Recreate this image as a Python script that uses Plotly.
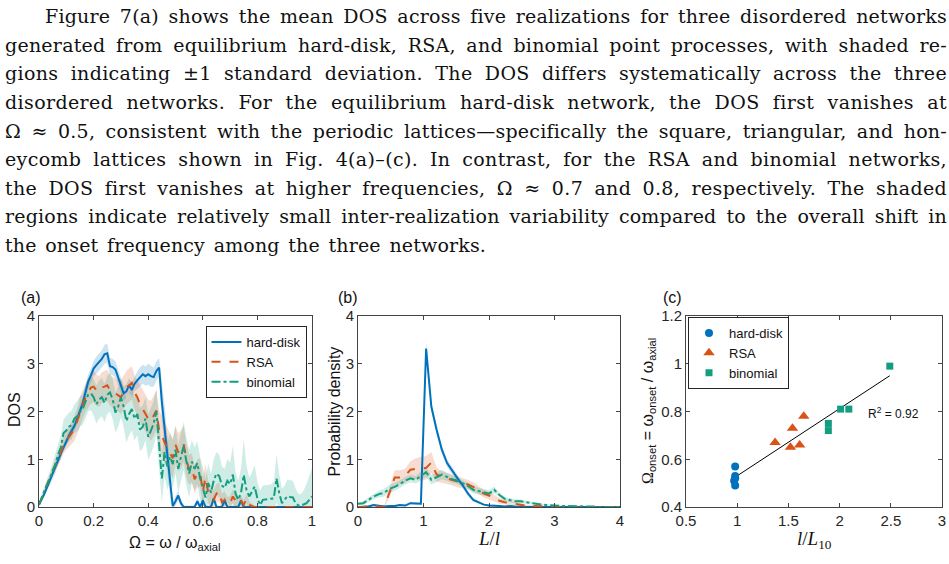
import json
import numpy as np
import plotly.graph_objects as go

W, H = 949, 564

# ---------------- panel (a): DOS ----------------
omega = np.round(np.arange(0, 1.0001, 0.01), 2)
dos_hd = [0.05, 0.15, 0.28, 0.42, 0.57, 0.70, 0.84, 0.98, 1.12, 1.25,
          1.38, 1.50, 1.60, 1.70, 1.85, 2.00, 2.17, 2.40, 2.62, 2.75,
          2.90, 2.97, 3.03, 3.10, 3.20, 3.22, 2.95, 2.93, 2.88, 2.72,
          2.55, 2.38, 2.42, 2.55, 2.45, 2.58, 2.65, 2.72, 2.78, 2.74,
          2.78, 2.74, 2.72, 2.85, 2.92, 2.20, 1.70, 1.10, 0.55, 0.02,
          0.12, 0.24, 0.08, 0.00, 0.00, 0.00, 0.00, 0.00, 0.12, 0.00,
          0.14, 0.00, 0.00, 0.00, 0.18, 0.00, 0.00, 0.00, 0.14, 0.00,
          0.00, 0.00, 0.00, 0.00, 0.14, 0.00, 0.00, 0.00, 0.00, 0.00,
          0.00, 0.00, 0.00, 0.00, 0.00, 0.00, 0.00, 0.00, 0.00, 0.00,
          0.00, 0.00, 0.00, 0.00, 0.00, 0.00, 0.00, 0.00, 0.00, 0.00, 0.00]
dos_hd_sd = [0.03, 0.04, 0.05, 0.05, 0.06, 0.06, 0.07, 0.08, 0.08, 0.09,
             0.10, 0.10, 0.10, 0.10, 0.12, 0.12, 0.14, 0.15, 0.15, 0.15,
             0.16, 0.18, 0.18, 0.18, 0.20, 0.20, 0.18, 0.17, 0.17, 0.16,
             0.15, 0.15, 0.15, 0.15, 0.15, 0.15, 0.18, 0.20, 0.20, 0.20,
             0.22, 0.22, 0.20, 0.20, 0.20, 0.40, 0.45, 0.40, 0.35, 0.10,
             0.10, 0.10, 0.08, 0.03, 0.03, 0.03, 0.03, 0.03, 0.08, 0.03,
             0.08, 0.03, 0.03, 0.03, 0.08, 0.03, 0.03, 0.03, 0.08, 0.03,
             0.03, 0.03, 0.03, 0.03, 0.08, 0.03, 0.00, 0.00, 0.00, 0.00,
             0.00, 0.00, 0.00, 0.00, 0.00, 0.00, 0.00, 0.00, 0.00, 0.00,
             0.00, 0.00, 0.00, 0.00, 0.00, 0.00, 0.00, 0.00, 0.00, 0.00, 0.00]
dos_rsa = [0.05, 0.18, 0.32, 0.47, 0.62, 0.75, 0.88, 1.00, 1.15, 1.30,
           1.40, 1.47, 1.55, 1.65, 1.80, 2.00, 2.15, 2.28, 2.40, 2.50,
           2.52, 2.45, 2.42, 2.50, 2.52, 2.55, 2.45, 2.40, 2.38, 2.33,
           2.30, 2.40, 2.50, 2.55, 2.60, 2.40, 2.30, 2.15, 2.05, 1.95,
           1.85, 1.80, 1.90, 2.02, 1.60, 1.50, 1.35, 1.25, 1.15, 1.02,
           1.30, 1.15, 1.20, 1.32, 0.98, 0.78, 0.82, 0.58, 0.70, 0.72,
           0.32, 0.62, 0.30, 0.22, 0.15, 0.28, 0.32, 0.10, 0.15, 0.06,
           0.08, 0.22, 0.12, 0.05, 0.12, 0.05, 0.17, 0.05, 0.02, 0.00,
           0.00, 0.00, 0.00, 0.00, 0.00, 0.00, 0.00, 0.00, 0.00, 0.00,
           0.00, 0.00, 0.00, 0.00, 0.00, 0.00, 0.00, 0.00, 0.00, 0.00, 0.00]
dos_rsa_sd = [0.03, 0.05, 0.07, 0.08, 0.09, 0.10, 0.12, 0.14, 0.16, 0.18,
              0.20, 0.22, 0.24, 0.26, 0.28, 0.30, 0.30, 0.30, 0.32, 0.33,
              0.33, 0.33, 0.32, 0.32, 0.33, 0.33, 0.32, 0.32, 0.32, 0.33,
              0.35, 0.35, 0.35, 0.35, 0.35, 0.36, 0.36, 0.38, 0.38, 0.40,
              0.40, 0.42, 0.42, 0.42, 0.42, 0.42, 0.42, 0.42, 0.42, 0.42,
              0.40, 0.40, 0.40, 0.38, 0.36, 0.32, 0.30, 0.30, 0.30, 0.30,
              0.28, 0.28, 0.25, 0.22, 0.20, 0.20, 0.20, 0.18, 0.18, 0.15,
              0.15, 0.15, 0.15, 0.12, 0.12, 0.10, 0.10, 0.08, 0.05, 0.02,
              0.00, 0.00, 0.00, 0.00, 0.00, 0.00, 0.00, 0.00, 0.00, 0.00,
              0.00, 0.00, 0.00, 0.00, 0.00, 0.00, 0.00, 0.00, 0.00, 0.00, 0.00]
dos_bin = [0.05, 0.20, 0.35, 0.48, 0.60, 0.75, 0.90, 1.10, 1.25, 1.55,
           1.60, 1.68, 1.72, 1.85, 1.90, 2.00, 2.05, 2.20, 2.35, 2.38,
           2.30, 2.15, 2.25, 2.30, 2.18, 2.35, 2.40, 2.25, 1.98, 2.10,
           2.30, 2.10, 1.80, 1.95, 2.05, 1.85, 1.95, 1.62, 1.68, 1.85,
           1.47, 1.60, 1.75, 2.00, 1.20, 0.60, 1.15, 0.85, 1.05, 0.90,
           1.20, 0.80, 1.05, 1.28, 0.95, 0.70, 0.95, 0.80, 0.92, 0.60,
           0.40, 0.20, 0.50, 0.30, 0.55, 0.70, 0.65, 0.45, 0.40, 0.55,
           0.48, 0.68, 0.28, 0.15, 0.30, 0.67, 0.36, 0.22, 0.32, 0.43,
           0.18, 0.04, 0.15, 0.16, 0.16, 0.17, 0.18, 0.60, 0.29, 0.08,
           0.15, 0.23, 0.21, 0.20, 0.08, 0.03, 0.03, 0.05, 0.08, 0.15, 0.22]
dos_bin_sd = [0.05, 0.08, 0.10, 0.12, 0.15, 0.18, 0.20, 0.22, 0.25, 0.28,
              0.30, 0.30, 0.30, 0.30, 0.32, 0.32, 0.32, 0.35, 0.35, 0.35,
              0.38, 0.40, 0.40, 0.40, 0.40, 0.40, 0.40, 0.42, 0.42, 0.42,
              0.42, 0.42, 0.45, 0.45, 0.45, 0.45, 0.45, 0.45, 0.45, 0.45,
              0.48, 0.48, 0.48, 0.48, 0.50, 0.50, 0.50, 0.50, 0.50, 0.50,
              0.50, 0.50, 0.50, 0.50, 0.50, 0.50, 0.45, 0.45, 0.45, 0.45,
              0.45, 0.40, 0.40, 0.40, 0.45, 0.45, 0.45, 0.40, 0.40, 0.45,
              0.45, 0.60, 0.45, 0.40, 0.50, 0.75, 0.50, 0.40, 0.40, 0.45,
              0.35, 0.30, 0.30, 0.30, 0.30, 0.30, 0.35, 0.50, 0.40, 0.30,
              0.30, 0.35, 0.35, 0.35, 0.30, 0.25, 0.25, 0.30, 0.40, 0.50, 0.60]

# ---------------- panel (b): edge-length distribution ----------------
L_ratio = np.round(np.arange(0, 4.0001, 0.08), 2)
pdf_hd = [0.00, 0.00, 0.01, 0.04, 0.02, 0.01, 0.02, 0.02, 0.04, 0.03,
          0.08, 0.07, 0.07, 3.32, 2.10, 1.62, 1.20, 0.92, 0.75, 0.60,
          0.45, 0.28, 0.15, 0.10, 0.05, 0.03, 0.03, 0.02, 0.01, 0.02,
          0.01, 0.00, 0.00, 0.00, 0.00, 0.00, 0.00, 0.00, 0.00, 0.00,
          0.00, 0.00, 0.00, 0.00, 0.00, 0.00, 0.00, 0.00, 0.00, 0.00, 0.00]
pdf_hd_sd = [0.01, 0.01, 0.02, 0.02, 0.02, 0.02, 0.02, 0.02, 0.02, 0.02,
             0.03, 0.03, 0.03, 0.15, 0.10, 0.10, 0.08, 0.08, 0.07, 0.07,
             0.06, 0.05, 0.04, 0.03, 0.02, 0.02, 0.02, 0.01, 0.01, 0.01,
             0.01, 0.00, 0.00, 0.00, 0.00, 0.00, 0.00, 0.00, 0.00, 0.00,
             0.00, 0.00, 0.00, 0.00, 0.00, 0.00, 0.00, 0.00, 0.00, 0.00, 0.00]
pdf_rsa = [0.00, 0.00, 0.02, 0.04, 0.00, 0.01, 0.30, 0.62, 0.62, 0.65,
           0.78, 0.80, 0.80, 0.82, 0.93, 0.68, 0.63, 0.60, 0.57, 0.53,
           0.50, 0.47, 0.42, 0.35, 0.28, 0.24, 0.18, 0.13, 0.10, 0.08,
           0.07, 0.05, 0.03, 0.02, 0.02, 0.01, 0.01, 0.01, 0.00, 0.00,
           0.00, 0.00, 0.00, 0.00, 0.00, 0.00, 0.00, 0.00, 0.00, 0.00, 0.00]
pdf_rsa_sd = [0.01, 0.01, 0.02, 0.02, 0.02, 0.02, 0.10, 0.15, 0.15, 0.15,
              0.18, 0.22, 0.25, 0.25, 0.22, 0.15, 0.12, 0.12, 0.12, 0.12,
              0.10, 0.10, 0.10, 0.08, 0.08, 0.08, 0.07, 0.06, 0.05, 0.04,
              0.03, 0.03, 0.02, 0.02, 0.02, 0.01, 0.01, 0.01, 0.00, 0.00,
              0.00, 0.00, 0.00, 0.00, 0.00, 0.00, 0.00, 0.00, 0.00, 0.00, 0.00]
pdf_bin = [0.07, 0.08, 0.15, 0.22, 0.27, 0.30, 0.38, 0.42, 0.48, 0.55,
           0.60, 0.57, 0.65, 0.73, 0.57, 0.62, 0.68, 0.63, 0.58, 0.55,
           0.50, 0.44, 0.36, 0.33, 0.30, 0.28, 0.36, 0.25, 0.17, 0.14,
           0.12, 0.12, 0.10, 0.08, 0.07, 0.05, 0.04, 0.03, 0.03, 0.02,
           0.02, 0.02, 0.02, 0.01, 0.01, 0.01, 0.00, 0.00, 0.00, 0.00, 0.00]
pdf_bin_sd = [0.03, 0.04, 0.05, 0.06, 0.07, 0.08, 0.08, 0.08, 0.08, 0.08,
              0.08, 0.08, 0.10, 0.10, 0.10, 0.10, 0.10, 0.08, 0.08, 0.07,
              0.07, 0.07, 0.07, 0.07, 0.07, 0.07, 0.07, 0.05, 0.04, 0.04,
              0.04, 0.04, 0.03, 0.03, 0.03, 0.02, 0.02, 0.02, 0.02, 0.01,
              0.01, 0.01, 0.01, 0.01, 0.01, 0.01, 0.00, 0.00, 0.00, 0.00, 0.00]

# ---------------- panel (c): onset frequency vs l/L10 ----------------
hd_x = [0.98, 0.98, 0.98, 0.97, 0.98]
hd_y = [0.57, 0.53, 0.52, 0.51, 0.49]
rsa_x = [1.37, 1.52, 1.54, 1.61, 1.65]
rsa_y = [0.67, 0.65, 0.73, 0.66, 0.78]
bin_x = [1.89, 1.89, 2.01, 2.09, 2.49]
bin_y = [0.75, 0.72, 0.81, 0.81, 0.99]
fit_x = [0.98, 2.49]
fit_y = [0.525, 0.95]
r2_text = "R<sup>2</sup> = 0.92"

series_names = ["hard-disk", "RSA", "binomial"]
colors = ["#0072BD", "#D95319", "#139E80"]
fills = ["rgba(0,114,189,0.2)", "rgba(217,83,25,0.2)", "rgba(19,158,128,0.2)"]
dashes = ["solid", "dash", "dashdot"]

para_lines = [
    "Figure 7(a) shows the mean DOS across five realizations for three disordered networks",
    "generated from equilibrium hard-disk, RSA, and binomial point processes, with shaded re-",
    "gions indicating \u00b11 standard deviation. The DOS differs systematically across the three",
    "disordered networks. For the equilibrium hard-disk network, the DOS first vanishes at",
    "\u03a9 \u2248 0.5, consistent with the periodic lattices\u2014specifically the square, triangular, and hon-",
    "eycomb lattices shown in Fig. 4(a)\u2013(c). In contrast, for the RSA and binomial networks,",
    "the DOS first vanishes at higher frequencies, \u03a9 \u2248 0.7 and 0.8, respectively. The shaded",
    "regions indicate relatively small inter-realization variability compared to the overall shift in",
    "the onset frequency among the three networks.",
]
para_left = [45, 5, 5, 5, 5, 5, 5, 5, 5]
para_right = [947, 947, 947, 947, 947, 947, 947, 947, 486]


def fx(p):
    return p / W


def fy(p):
    return 1 - p / H


fig = go.Figure()

panels = [
    ("x", "y", omega, [dos_hd, dos_rsa, dos_bin], [dos_hd_sd, dos_rsa_sd, dos_bin_sd]),
    ("x2", "y2", L_ratio, [pdf_hd, pdf_rsa, pdf_bin], [pdf_hd_sd, pdf_rsa_sd, pdf_bin_sd]),
]
for xa, ya, xv, means, sds in panels:
    for i in range(3):
        m = np.array(means[i])
        s = np.array(sds[i])
        fig.add_trace(go.Scatter(x=xv, y=m + s, xaxis=xa, yaxis=ya, mode="lines",
                                 line=dict(width=0), showlegend=False, hoverinfo="skip"))
        fig.add_trace(go.Scatter(x=xv, y=m - s, xaxis=xa, yaxis=ya, mode="lines",
                                 line=dict(width=0), fill="tonexty", fillcolor=fills[i],
                                 showlegend=False, hoverinfo="skip"))
    for i in range(3):
        fig.add_trace(go.Scatter(x=xv, y=means[i], xaxis=xa, yaxis=ya, mode="lines",
                                 name=series_names[i],
                                 line=dict(color=colors[i], width=2, dash=dashes[i]),
                                 showlegend=(xa == "x"), legend="legend"))

# panel (c)
fig.add_trace(go.Scatter(x=fit_x, y=fit_y, xaxis="x3", yaxis="y3", mode="lines",
                         line=dict(color="black", width=1), showlegend=False))
markers = ["circle", "triangle-up", "square"]
msizes = [8, 10, 7]
for i, (xs, ys) in enumerate([(hd_x, hd_y), (rsa_x, rsa_y), (bin_x, bin_y)]):
    fig.add_trace(go.Scatter(x=xs, y=ys, xaxis="x3", yaxis="y3", mode="markers",
                             name=series_names[i],
                             marker=dict(symbol=markers[i], size=msizes[i], color=colors[i],
                                         line=dict(width=0)),
                             legend="legend2"))

tickfont = dict(family="Liberation Sans, Arial, sans-serif", size=15, color="#262626")
axis_common = dict(showline=True, linecolor="#444444", linewidth=1, mirror="ticks",
                   ticks="inside", ticklen=4, tickcolor="#444444", showgrid=False,
                   zeroline=False, tickfont=tickfont, automargin=False, fixedrange=True)

ydom = [fy(507), fy(316)]
fig.update_layout(
    width=W, height=H,
    margin=dict(l=0, r=0, t=0, b=0),
    paper_bgcolor="white", plot_bgcolor="white",
    font=dict(family="Liberation Sans, Arial, sans-serif", color="#262626"),
    xaxis=dict(domain=[fx(39), fx(312)], range=[0, 1], anchor="y",
               tickvals=[0, 0.2, 0.4, 0.6, 0.8, 1],
               ticktext=["0", "0.2", "0.4", "0.6", "0.8", "1"], **axis_common),
    yaxis=dict(domain=ydom, range=[0, 4], anchor="x", tickvals=[0, 1, 2, 3, 4], **axis_common),
    xaxis2=dict(domain=[fx(358), fx(620)], range=[0, 4], anchor="y2",
                tickvals=[0, 1, 2, 3, 4], **axis_common),
    yaxis2=dict(domain=ydom, range=[0, 4], anchor="x2", tickvals=[0, 1, 2, 3, 4], **axis_common),
    xaxis3=dict(domain=[fx(686), fx(942)], range=[0.5, 3], anchor="y3",
                tickvals=[0.5, 1, 1.5, 2, 2.5, 3],
                ticktext=["0.5", "1", "1.5", "2", "2.5", "3"], **axis_common),
    yaxis3=dict(domain=ydom, range=[0.4, 1.2], anchor="x3",
                tickvals=[0.4, 0.6, 0.8, 1.0, 1.2],
                ticktext=["0.4", "0.6", "0.8", "1", "1.2"], **axis_common),
    legend=dict(x=fx(256), y=fy(326), xanchor="center", yanchor="top",
                bgcolor="white", bordercolor="#262626", borderwidth=1, traceorder="normal",
                font=dict(size=13, color="#111111"), tracegroupgap=0),
    legend2=dict(x=fx(688), y=fy(317), xanchor="left", yanchor="top",
                 bgcolor="white", bordercolor="#262626", borderwidth=1, traceorder="normal",
                 font=dict(size=13, color="#111111"), tracegroupgap=0),
    showlegend=True,
)

ann = []
serif = "DejaVu Serif, Liberation Serif, serif"
iserif = "Liberation Serif, Times New Roman, serif"
sans = "Liberation Sans, Arial, sans-serif"

# paragraph
targets = {}
for i, line in enumerate(para_lines):
    base = 22.7 + 28.6 * i
    ann.append(dict(text=line, x=fx(para_left[i]), y=fy(base - 6.5), xref="paper", yref="paper",
                    xanchor="left", yanchor="middle", showarrow=False, align="left",
                    font=dict(family=serif, size=19, color="#111111")))
    targets[line] = [para_left[i], para_right[i]]

# panel labels
for lab, cx in [("(a)", 31.5), ("(b)", 348), ("(c)", 672)]:
    ann.append(dict(text=lab, x=fx(cx), y=fy(297), xref="paper", yref="paper",
                    xanchor="center", yanchor="middle", showarrow=False,
                    font=dict(family=sans, size=16, color="#111111")))

# axis titles
ann += [
    dict(text="DOS", x=fx(14), y=fy(410), textangle=-90,
         font=dict(family=sans, size=16, color="#111111")),
    dict(text="\u03a9 = \u03c9 / \u03c9<sub>axial</sub>", x=fx(175), y=fy(543),
         font=dict(family=sans, size=16, color="#111111")),
    dict(text="Probability density", x=fx(333.5), y=fy(412), textangle=-90,
         font=dict(family=sans, size=16, color="#111111")),
    dict(text="<i>L</i>/<i>l</i>", x=fx(488.5), y=fy(538),
         font=dict(family=iserif, size=19, color="#111111")),
    dict(text="<span style=\"font-family:Liberation Serif\">\u03a9</span><sub>onset</sub> = "
              "\u03c9<sub>onset</sub> / \u03c9<sub>axial</sub>",
         x=fx(648), y=fy(411), textangle=-90,
         font=dict(family=sans, size=16, color="#111111")),
    dict(text="<i>l</i>/<i>L</i><sub>10</sub>", x=fx(814), y=fy(540),
         font=dict(family=iserif, size=19, color="#111111")),
    dict(text=r2_text, x=fx(893), y=fy(413),
         font=dict(family=sans, size=12, color="#111111")),
]
for a in ann:
    a.setdefault("xref", "paper")
    a.setdefault("yref", "paper")
    a.setdefault("showarrow", False)
    a.setdefault("xanchor", "center")
    a.setdefault("yanchor", "middle")
fig.update_layout(annotations=ann)

js = """
(function(){
  var T = %s;
  function justify(){
    var els = document.querySelectorAll('text.annotation-text');
    els.forEach(function(t){
      var key = t.textContent;
      if(!T.hasOwnProperty(key)) { key = t.getAttribute('data-unformatted'); }
      if(!key || !T.hasOwnProperty(key)) return;
      var L = T[key][0], R = T[key][1];
      if(t.getAttribute('data-origtr') === null) {
        t.setAttribute('data-origtr', t.getAttribute('transform') || '');
      }
      var base = t.getAttribute('data-origtr');
      t.setAttribute('transform', base);
      t.style.letterSpacing = '0px';
      t.style.wordSpacing = '0px';
      var n = (key.match(/ /g) || []).length;
      var w0 = t.getBoundingClientRect().width;
      var D = (R - L) - w0;
      var ls = 0.3 * D / key.length;
      t.style.letterSpacing = ls + 'px';
      var w1 = t.getBoundingClientRect().width;
      if(n > 0) { t.style.wordSpacing = (((R - L) - w1) / n) + 'px'; }
      var dx = 0;
      for(var k = 0; k < 3; k++){
        var r = t.getBoundingClientRect();
        dx += L - r.left;
        t.setAttribute('transform', base + ' translate(' + dx + ',0)');
      }
    });
  }
  justify();
  setTimeout(justify, 50);
  setTimeout(justify, 400);
})();
""" % json.dumps(targets)

fig.write_html("out.html", post_script=js, config={"displayModeBar": False})
